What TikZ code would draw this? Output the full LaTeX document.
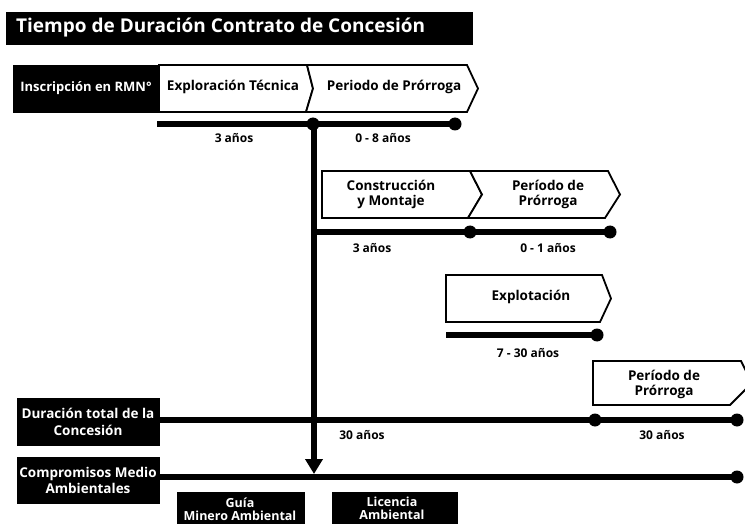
\documentclass[tikz,border=0pt]{standalone}
\usepackage{fontspec}
\setmainfont{Open Sans}
\usetikzlibrary{arrows.meta}
\begin{document}
\begin{tikzpicture}[x=1pt,y=-1pt,
  blkbox/.style={fill=black,draw=black,inner sep=0pt},
  wshape/.style={fill=white,draw=black,line width=1.8pt,line join=miter},
  wtxt/.style={text=white,font=\bfseries\fontsize{13.5}{15}\selectfont,align=center,inner sep=0pt},
  btxt/.style={text=black,font=\bfseries\fontsize{13.5}{15}\selectfont,align=center,inner sep=0pt},
  bar/.style={line width=6.5pt},
  dotn/.style={circle,fill=black,inner sep=0pt,minimum size=13pt},
  lbl/.style={font=\bfseries\fontsize{12}{13}\selectfont,inner sep=0pt}]
\useasboundingbox (0,0) rectangle (745,524);
% title
\node[blkbox,anchor=north west,minimum width=466pt,minimum height=32pt] (titlebar) at (6,12) {};
\node[anchor=west,text=white,font=\bfseries\fontsize{19}{20}\selectfont,inner sep=0pt] (title) at (16,28) {Tiempo de Duración Contrato de Concesión};
% row 1
\node[blkbox,anchor=north west,minimum width=146pt,minimum height=47pt] (insc) at (13,65) {};
\node[wtxt,font=\bfseries\fontsize{13}{15}\selectfont] (insct) at (86,88) {Inscripción en RMN°};
\draw[wshape] (159,65) -- (307,65) -- (313,88.5) -- (306,112) -- (159,112) -- cycle;
\node[btxt] (explo) at (233,87) {Exploración Técnica};
\draw[wshape] (307,65) -- (467,65) -- (478,88.5) -- (467,112) -- (306,112) -- (313,88.5) -- cycle;
\node[btxt] (prorr1) at (394,87) {Periodo de Prórroga};
\coordinate (r1s) at (157,124);
\node[dotn] (d1a) at (313,124) {};
\node[dotn] (d1b) at (455,124) {};
\draw[bar] (r1s) -- (d1b.center);
\node[lbl] (l1a) at (234,138) {3 años};
\node[lbl] (l1b) at (383,138) {0 - 8 años};
% row 2
\draw[wshape] (322,171) -- (470,171) -- (482,194.5) -- (468,218) -- (322,218) -- cycle;
\node[btxt] (constr) at (391,194) {Construcción\\y Montaje};
\draw[wshape] (470,171) -- (608,171) -- (620,194.5) -- (605,218) -- (468,218) -- (482,194.5) -- cycle;
\node[btxt] (prorr2) at (548,194) {Período de\\Prórroga};
\coordinate (r2s) at (314,232);
\node[dotn] (d2a) at (470,232) {};
\node[dotn] (d2b) at (610,232) {};
\draw[bar] (r2s) -- (d2b.center);
\node[lbl] (l2a) at (372,248) {3 años};
\node[lbl] (l2b) at (548,248) {0 - 1 años};
% row 3
\draw[wshape] (446,275) -- (602,275) -- (611,298.5) -- (600,322) -- (446,322) -- cycle;
\node[btxt] (explot) at (531,297) {Explotación};
\coordinate (r3s) at (446,335);
\node[dotn] (d3) at (597,335) {};
\draw[bar] (r3s) -- (d3.center);
\node[lbl] (l3) at (528,353) {7 - 30 años};
% row 4
\draw[wshape] (593,361) -- (741,361) -- (752,383) -- (730,405) -- (593,405) -- cycle;
\node[btxt] (prorr3) at (664,384) {Período de\\Prórroga};
\node[blkbox,anchor=north west,minimum width=142pt,minimum height=47pt] (durac) at (17,398) {};
\node[wtxt,font=\bfseries\fontsize{13.5}{17}\selectfont] (durt) at (88,422) {Duración total de la\\Concesión};
\node[dotn] (d4a) at (595,420) {};
\node[dotn] (d4b) at (737,420) {};
\draw[bar] (durac.east |- d4b) -- (d4b.center);
\node[lbl] (l4a) at (362,435) {30 años};
\node[lbl] (l4b) at (662,435) {30 años};
% row 5
\node[blkbox,anchor=north west,minimum width=142pt,minimum height=46pt] (comp) at (17,457) {};
\node[wtxt,font=\bfseries\fontsize{13.5}{16}\selectfont] (compt) at (88,480) {Compromisos Medio\\Ambientales};
\node[dotn] (d5) at (737,477) {};
\draw[line width=5.5pt] (comp.east |- d5) -- (d5.center);
% vertical arrow
\coordinate (vtip) at (314,474);
\draw[bar,-{Triangle[width=17pt,length=15pt]}] (314,124) -- (vtip);
% bottom boxes
\node[blkbox,anchor=north west,minimum width=127pt,minimum height=40pt] (guia) at (177,492) {};
\node[wtxt,font=\bfseries\fontsize{12.5}{13}\selectfont] (guiat) at (240,509) {Guía\\Minero Ambiental};
\node[blkbox,anchor=north west,minimum width=125pt,minimum height=40pt] (lic) at (332,492) {};
\node[wtxt,font=\bfseries\fontsize{12.5}{13}\selectfont] (lict) at (392,508) {Licencia\\Ambiental};
\end{tikzpicture}
\end{document}
